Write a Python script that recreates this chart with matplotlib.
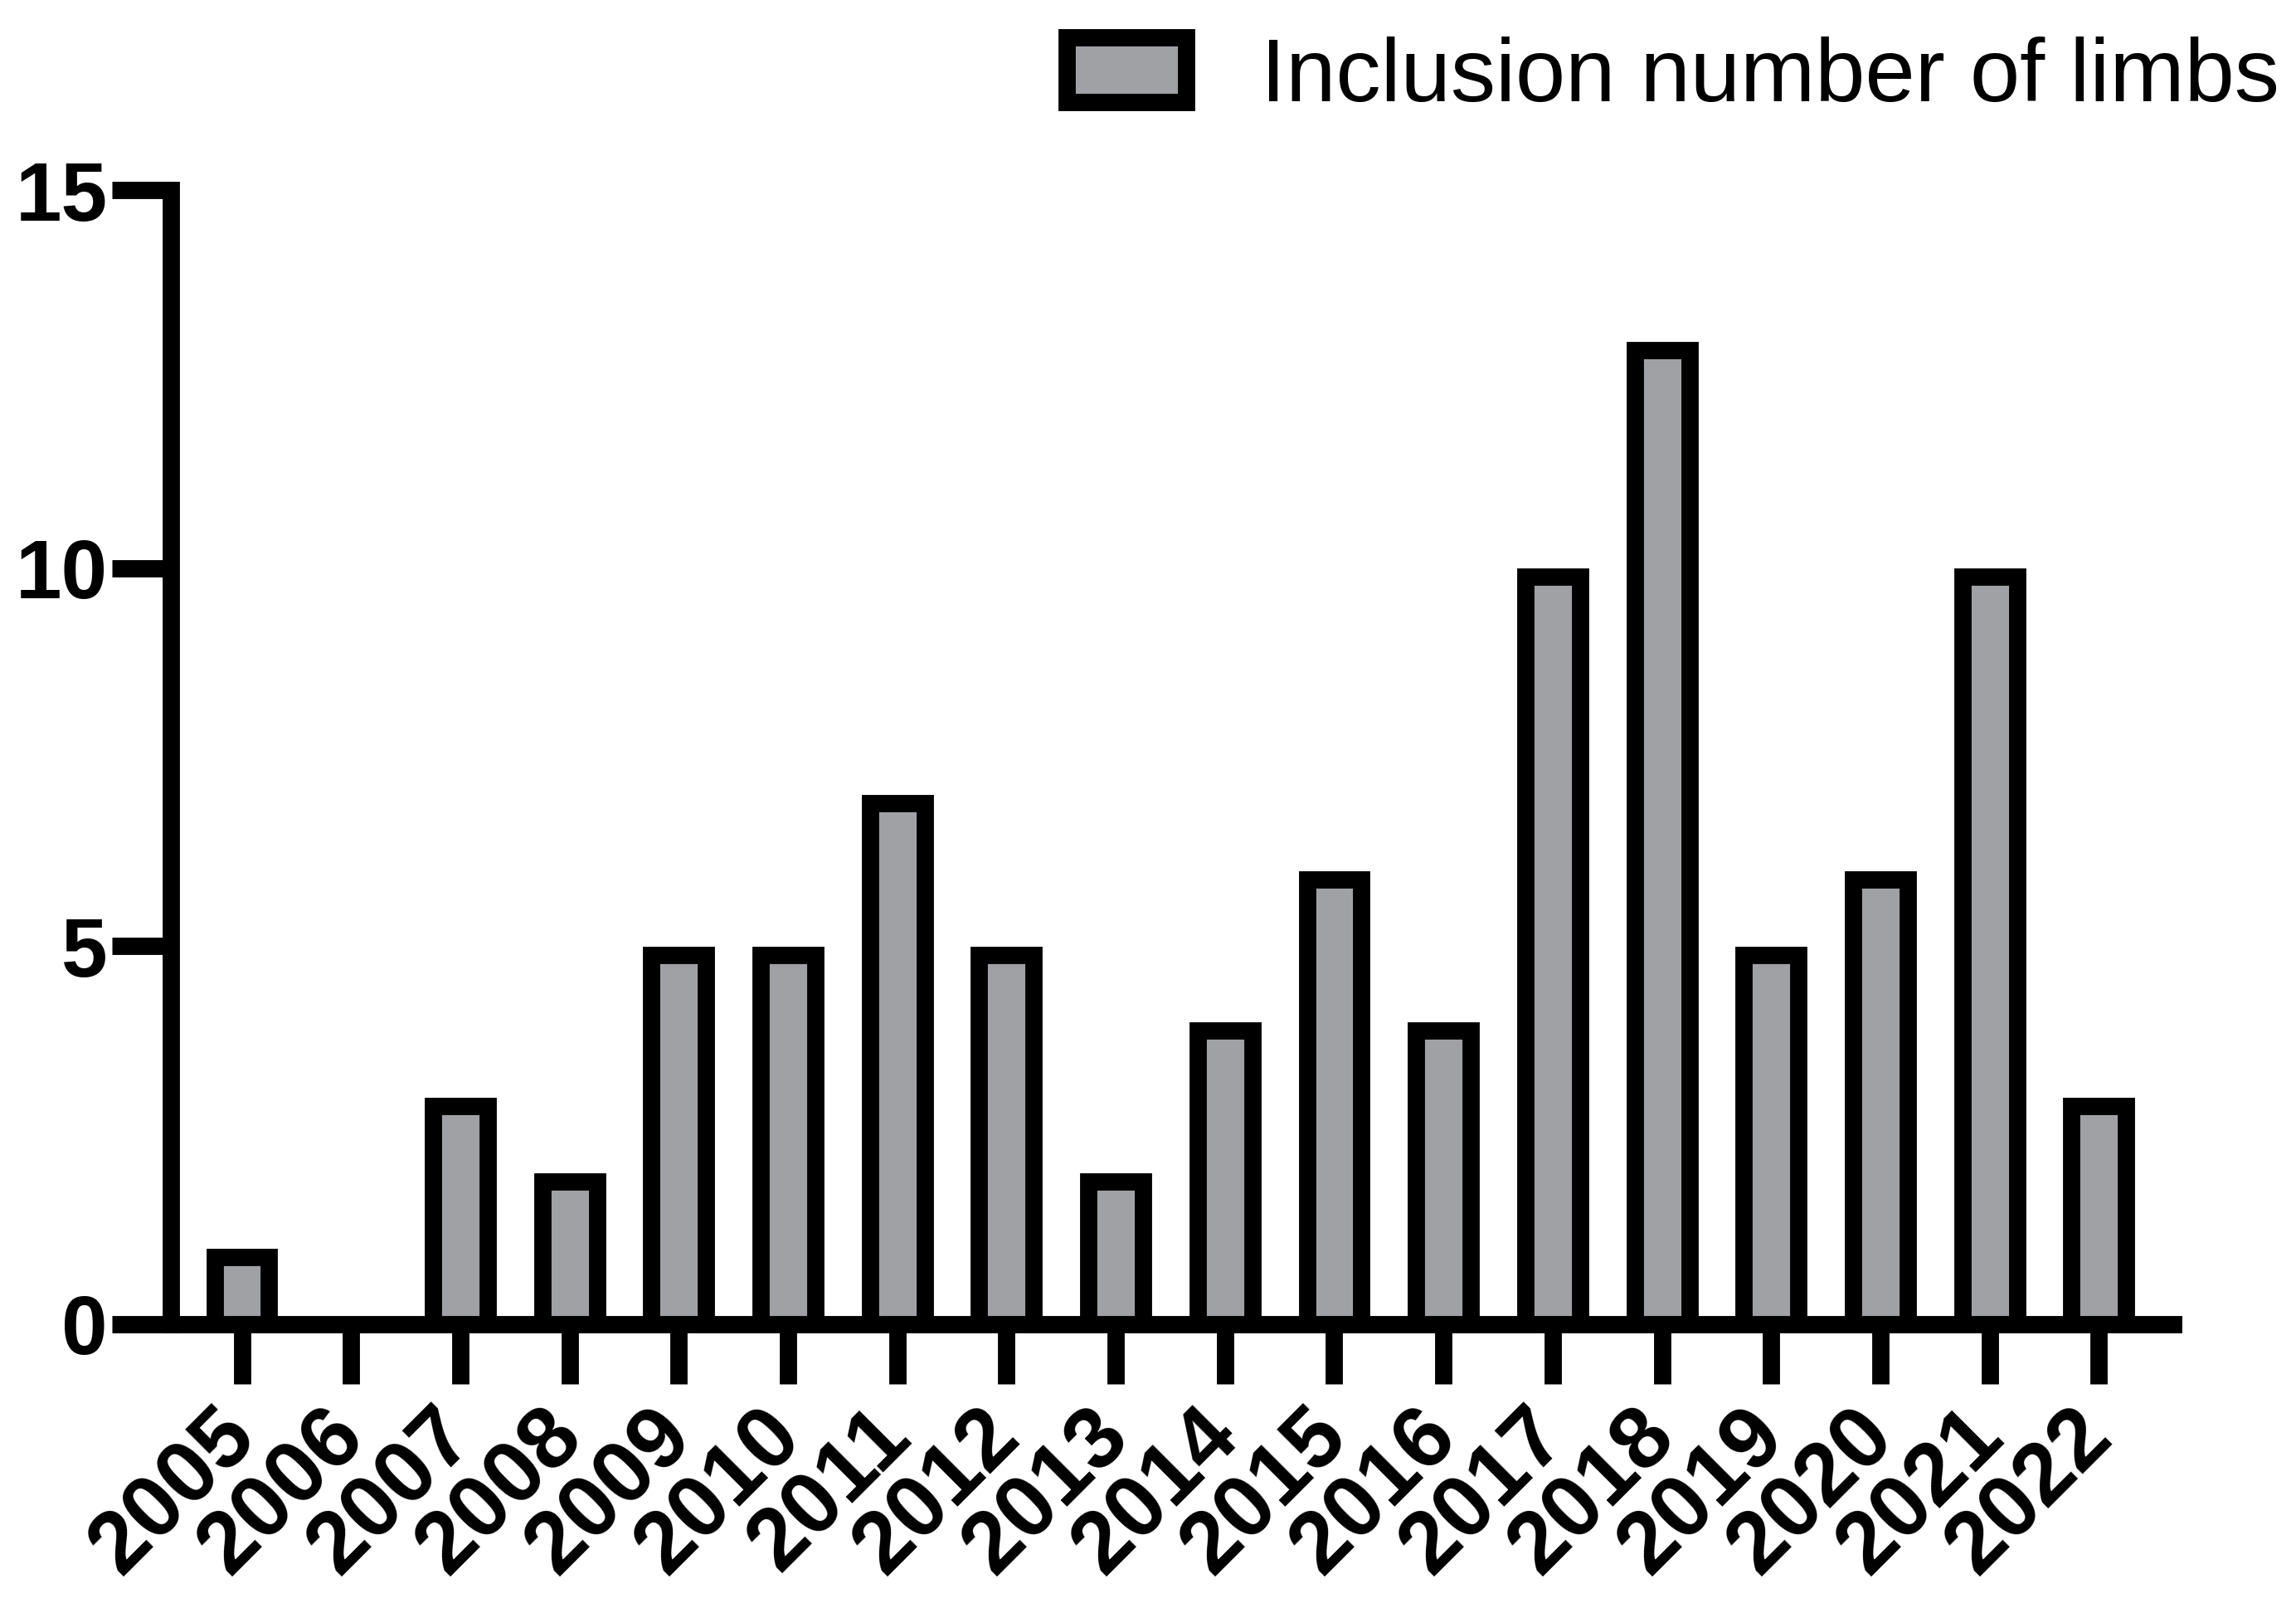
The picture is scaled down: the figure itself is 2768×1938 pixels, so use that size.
import numpy as np
import matplotlib
matplotlib.use("Agg")
import matplotlib.pyplot as plt
from matplotlib.transforms import ScaledTranslation

years = ["2005", "2006", "2007", "2008", "2009", "2010", "2011", "2012", "2013",
         "2014", "2015", "2016", "2017", "2018", "2019", "2020", "2021", "2022"]
limbs = [1, 0, 3, 2, 5, 5, 7, 5, 2, 4, 6, 4, 10, 13, 5, 6, 10, 3]
y_ticks = [0, 5, 10, 15]

plt.rcParams["font.family"] = ["Liberation Sans", "DejaVu Sans"]

lw = 15  # thick Prism-style lines
fig = plt.figure(figsize=(27.68, 19.38), dpi=100)
ax = fig.add_axes([0.0744, 0.1765, 0.9465 - 0.0744, 0.8818 - 0.1765])

x = np.arange(len(years))
bars = ax.bar(x, limbs, width=0.5, color="#a0a1a5", edgecolor="black", linewidth=lw,
              label="Inclusion number of limbs")
# Prism draws the border inside the bar: shift down by half a line width
# (the part below zero is clipped by the axes / hidden by the spine)
shift = ScaledTranslation(0, -lw / 2 / 72, fig.dpi_scale_trans)
for b in bars:
    b.set_transform(ax.transData + shift)

ax.set_xlim(-0.65, len(years) - 1 + 0.68)
ax.set_ylim(0, 15)
ax.set_yticks(y_ticks)
ax.set_xticks(x)
ax.set_xticklabels(years, rotation=45, ha="right", va="center",
                   rotation_mode="anchor", fontsize=76, fontweight="bold")
ax.set_yticklabels([str(v) for v in y_ticks], fontsize=72, fontweight="bold")

for s in ["top", "right"]:
    ax.spines[s].set_visible(False)
for s in ["left", "bottom"]:
    ax.spines[s].set_linewidth(lw)
ax.tick_params(axis="y", length=51, width=lw, direction="out", pad=4)
ax.tick_params(axis="x", length=52, width=lw, direction="out", pad=34)

fig.legend(loc="center right", bbox_to_anchor=(2748 / 2768, 1 - 94 / 1938),
           frameon=False, fontsize=78, borderpad=0, borderaxespad=0,
           handlelength=1.33, handleheight=0.73, handletextpad=0.83)

fig.savefig("out.png", dpi=100)
